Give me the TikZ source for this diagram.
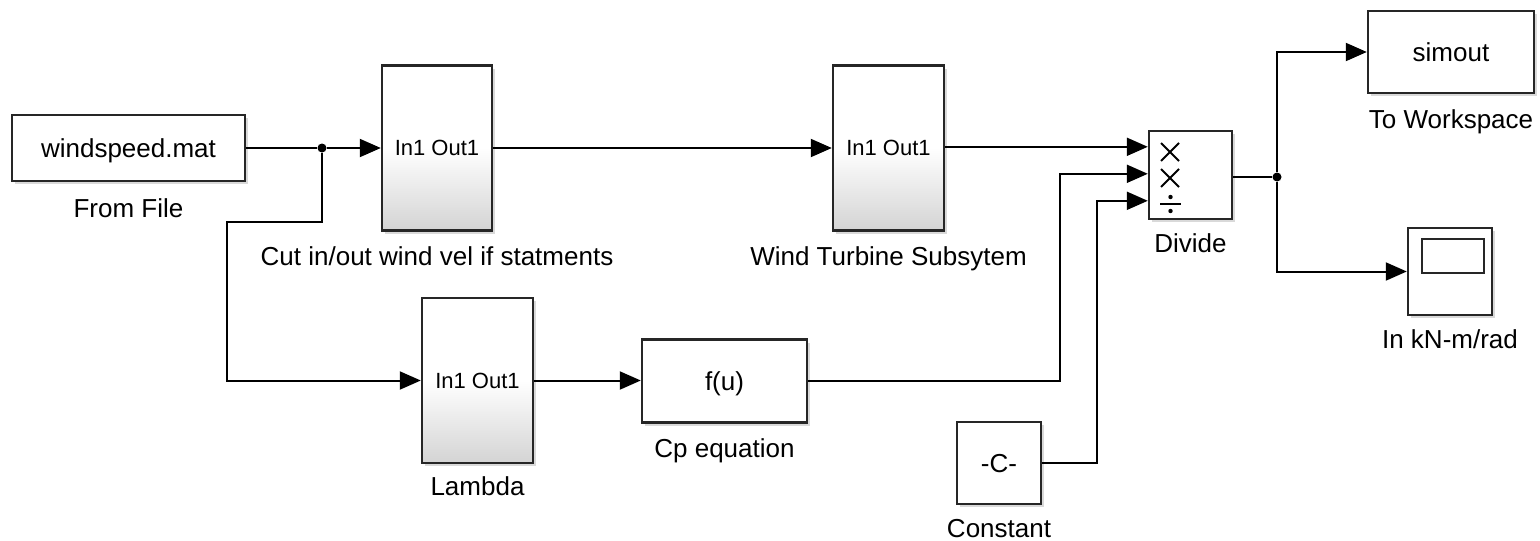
\documentclass[tikz,border=0pt]{standalone}
\usepackage{fontspec}
\setmainfont{Liberation Sans}
\usetikzlibrary{arrows.meta,shadows,calc}
\begin{document}
\begin{tikzpicture}[x=1pt,y=-1pt,
  blk/.style={draw=black!85, line width=2.4pt, fill=white,
    drop shadow={shadow xshift=3pt,shadow yshift=-3pt,opacity=0.3},
    inner sep=0pt, text height=18.6pt, text depth=0pt,
    font=\fontsize{26}{30}\selectfont},
  sub/.style={blk, top color=white, bottom color=black!17, middle color=white,
    text height=15.8pt, font=\fontsize{22}{26}\selectfont},
  lbl/.style={font=\fontsize{26}{30}\selectfont, inner sep=0pt, anchor=base},
  wire/.style={line width=2pt, -{Triangle[length=21pt,width=18pt]}},
  line/.style={line width=2pt},
  dot/.style={circle, fill=black, inner sep=0pt, minimum size=9pt},
  sym/.style={line width=2pt}]
\useasboundingbox (0,0) rectangle (1540,541);

% blocks
\node[blk, minimum width=233pt, minimum height=66pt] (file) at (128.5,148) {windspeed.mat};
\node[lbl] (fileL) at (128.5,217) {From File};

\node[sub, minimum width=110pt, minimum height=165pt] (cut) at (437,148) {In1 Out1};
\node[lbl] (cutL) at (437,265) {Cut in/out wind vel if statments};

\node[sub, minimum width=111pt, minimum height=165pt] (wts) at (888.5,148) {In1 Out1};
\node[lbl] (wtsL) at (888.5,265) {Wind Turbine Subsytem};

\node[sub, minimum width=111pt, minimum height=165pt] (lam) at (477.5,380.5) {In1 Out1};
\node[lbl] (lamL) at (477.5,495) {Lambda};

\node[blk, minimum width=165pt, minimum height=83pt] (cp) at (724.5,381) {f(u)};
\node[lbl] (cpL) at (724.5,457) {Cp equation};

\node[blk, minimum width=84pt, minimum height=82pt] (const) at (999,463) {-C-};
\node[lbl] (constL) at (999,537) {Constant};

\node[blk, minimum width=83pt, minimum height=88pt] (div) at (1190.5,175) {};
\node[lbl] (divL) at (1190.5,252) {Divide};

\node[blk, minimum width=166pt, minimum height=82pt] (ws) at (1451,52) {simout};
\node[lbl] (wsL) at (1451,128) {To Workspace};

\node[blk, minimum width=84pt, minimum height=87pt] (scope) at (1450,271.5) {};
\node[lbl] (scopeL) at (1450,348) {In kN-m/rad};
\draw[line width=2pt, draw=black!85] (1422,239) rectangle (1484,273);

% divide symbols
\draw[sym] (1161,143) -- (1179,161) (1161,161) -- (1179,143);
\draw[sym] (1161,169) -- (1179,187) (1161,187) -- (1179,169);
\draw[sym] (1160,204) -- (1181,204);
\fill (1170.5,197) circle (2.2pt) (1170.5,211) circle (2.2pt);

% port coordinates
\coordinate (in1) at ($(div.north west)+(0,17)$);
\coordinate (in2) at ($(div.north west)+(0,44)$);
\coordinate (in3) at ($(div.north west)+(0,71)$);
\node[dot] (j1) at (322,148) {};
\node[dot] (j2) at (1277,177) {};
\coordinate (b1) at (322,222);
\coordinate (b2) at (227,222);
\coordinate (c1) at (1060,381);
\coordinate (c2) at (1097,463);

% connectors
\draw[line] (file.east) -- (j1);
\draw[wire] (j1) -- (cut.west |- j1);
\draw[wire] (j1) -- (b1) -- (b2) |- (lam.west);
\draw[wire] (cut.east |- j1) -- (wts.west |- j1);
\draw[wire] (in1 -| wts.east) -- (in1);
\draw[wire] (lam.east) -- (cp.west |- lam.east);
\draw[wire] (cp.east) -- (c1) |- (in2);
\draw[wire] (const.east) -- (c2) |- (in3);
\draw[line] (div.east |- j2) -- (j2);
\draw[wire] (j2) |- (ws.west);
\draw[wire] (j2) |- (scope.west);
\end{tikzpicture}
\end{document}
